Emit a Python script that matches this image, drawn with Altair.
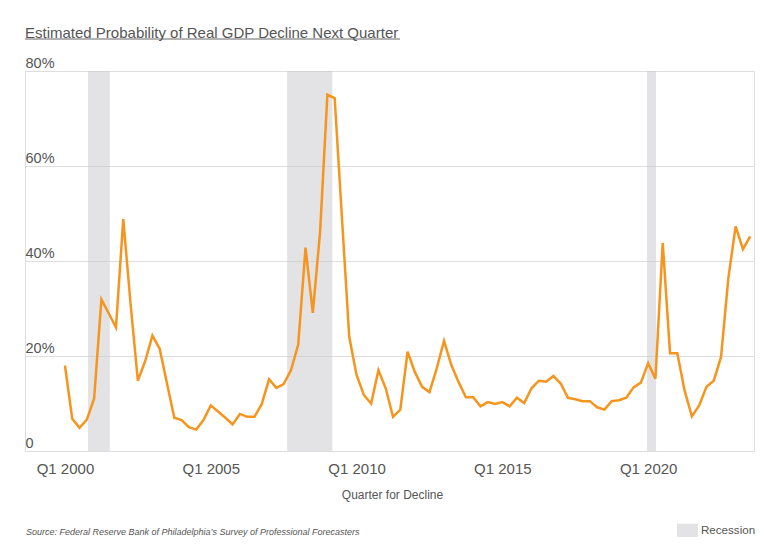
import altair as alt
import pandas as pd

FONT = "Liberation Sans"

# Estimated probability (%) of a real GDP decline, one value per quarter, Q1 2000 .. Q3 2023
prob = [18.0, 6.8, 4.9, 6.6, 11.0, 31.9, 29.0, 26.0, 48.8, 31.0,
        14.8, 18.9, 24.3, 21.5, 14.2, 7.0, 6.5, 5.0, 4.5, 6.5,
        9.6, 8.3, 7.0, 5.6, 7.8, 7.2, 7.2, 9.9, 15.1, 13.3,
        14.1, 17.0, 22.4, 42.8, 29.1, 46.2, 75.0, 74.3, 49.0, 24.0,
        16.0, 11.8, 10.0, 17.0, 13.2, 7.2, 8.7, 20.9, 16.6, 13.5,
        12.4, 17.4, 23.2, 18.1, 14.5, 11.3, 11.3, 9.4, 10.3, 9.9,
        10.3, 9.4, 11.2, 10.1, 13.2, 14.8, 14.6, 15.8, 14.2, 11.2,
        10.9, 10.5, 10.5, 9.2, 8.7, 10.5, 10.7, 11.2, 13.4, 14.4,
        18.5, 15.2, 43.8, 20.6, 20.6, 12.7, 7.3, 9.6, 13.5, 14.8,
        19.8, 36.4, 47.3, 42.5, 45.2]
first_year = 2000
# quarter position on a decimal-year axis (Q1 = .00, Q2 = .25, ...)
quarter_pos = [first_year + i / 4 for i in range(len(prob))]

# Recession shading (decimal years)
rec_start = [2000.79, 2007.62, 2019.96]
rec_end = [2001.54, 2009.17, 2020.27]
rec_label = ["Recession", "Recession", "Recession"]

x_ticks = [2000, 2005, 2010, 2015, 2020]
y_ticks = [0, 20, 40, 60, 80]
x_domain = [1998.63, 2023.63]

title_text = "Estimated Probability of Real GDP Decline Next Quarter"
x_title = "Quarter for Decline"
source_text = "Source: Federal Reserve Bank of Philadelphia\u2019s Survey of Professional Forecasters"

df = pd.DataFrame({"t": quarter_pos, "p": prob})
rec = pd.DataFrame({"start": rec_start, "end": rec_end, "label": rec_label,
                    "top": [80] * 3, "bottom": [0] * 3})

x_scale = alt.Scale(domain=x_domain, nice=False, zero=False)
y_scale = alt.Scale(domain=[0, 80], nice=False)

x_axis = alt.Axis(values=x_ticks, labelExpr="'Q1 ' + datum.value", grid=False,
                  domain=False, ticks=False, tickSize=0, labelPadding=22,
                  labelBaseline="alphabetic", labelFontSize=15, labelColor="#555555",
                  labelFont=FONT, labelFlush=False, title=x_title, titleFont=FONT,
                  titleFontSize=12, titleFontWeight="normal", titleColor="#555555",
                  titleBaseline="alphabetic", titleY=47.5, titleX=367)
y_axis = alt.Axis(values=y_ticks,
                  labelExpr="datum.value == 0 ? '0' : datum.value + '%'",
                  grid=True, gridColor="#DEDEDE", gridWidth=1, domain=False,
                  ticks=False, tickSize=0, labelPadding=0, labelAlign="left",
                  labelBaseline="alphabetic", labelOffset=-3.5, labelFontSize=14.5,
                  labelColor="#555555", labelFont=FONT, labelFlush=False, title=None)

rect = alt.Chart(rec).mark_rect(opacity=0.5).encode(
    x=alt.X("start:Q", scale=x_scale, axis=x_axis),
    x2="end:Q",
    y=alt.Y("top:Q", scale=y_scale, axis=y_axis),
    y2="bottom:Q",
    color=alt.Color("label:N",
                    scale=alt.Scale(domain=["Recession"], range=["#C8C8CE"]),
                    legend=alt.Legend(title=None, orient="none", legendX=652,
                                      legendY=449.5, padding=0,
                                      symbolType="M-1,-0.7H1V0.7H-1Z",
                                      symbolSize=441, symbolStrokeWidth=0,
                                      symbolOpacity=0.5,
                                      labelFont=FONT, labelFontSize=11.6,
                                      labelColor="#555555", labelOffset=3)),
)

line = alt.Chart(df).mark_line(color="#F7941D", strokeWidth=2.5).encode(
    x=alt.X("t:Q", scale=x_scale),
    y=alt.Y("p:Q", scale=y_scale),
)

deco = alt.Data(values=[{"k": 1}])
underline = alt.Chart(deco).mark_rule(color="#666666", strokeWidth=1).encode(
    x=alt.value(0), x2=alt.value(375), y=alt.value(-32)
)
source = alt.Chart(deco).mark_text(
    text=source_text, font=FONT, fontSize=9.0, fontStyle="italic",
    color="#555555", align="left", baseline="middle"
).encode(x=alt.value(1), y=alt.value(460.5))

chart = alt.layer(rect, line, underline, source).properties(
    width=729, height=380,
    padding={"left": 17, "top": 63, "right": 18, "bottom": 86},
    autosize=alt.AutoSizeParams(type="none"),
    title=alt.TitleParams(title_text, anchor="start", frame="group", fontSize=15,
                          font=FONT, color="#555555", fontWeight="normal",
                          offset=15, dy=17),
).configure_view(stroke=None).configure(background="white")

chart.save("out.html", embed_options={"renderer": "svg", "actions": False})
